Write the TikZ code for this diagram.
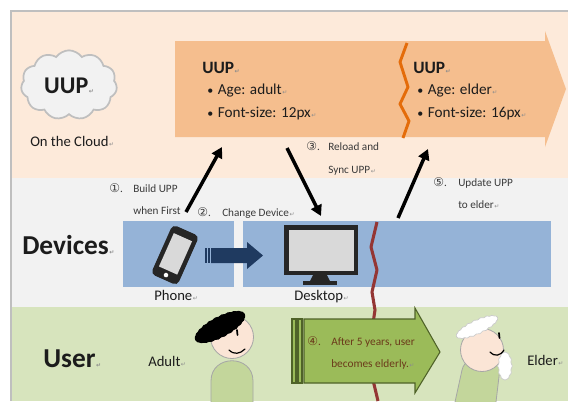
\documentclass[tikz,border=0pt]{standalone}
\usepackage{fontspec}
\setmainfont{Carlito}
\newfontfamily\djv{DejaVu Sans}
\usetikzlibrary{shapes.symbols,arrows.meta}

\definecolor{cloudband}{HTML}{FDEADA}
\definecolor{deviceband}{HTML}{F2F2F2}
\definecolor{userband}{HTML}{D7E4BD}
\definecolor{framegray}{HTML}{BFBFBF}
\definecolor{cloudfill}{HTML}{F2F2F2}
\definecolor{cloudline}{HTML}{BFBFBF}
\definecolor{profilefill}{HTML}{F5BE8E}
\definecolor{zigorange}{HTML}{E46C0A}
\definecolor{devblue}{HTML}{95B3D7}
\definecolor{navy}{HTML}{1F3A60}
\definecolor{timered}{HTML}{943634}
\definecolor{agegreen}{HTML}{9BBB59}
\definecolor{agegreenline}{HTML}{4F6228}
\definecolor{agetext}{HTML}{6B3A1A}
\definecolor{shirt}{HTML}{C3D69B}
\definecolor{skin}{HTML}{FBE5D6}
\definecolor{outline}{HTML}{A6A6A6}
\definecolor{ink}{HTML}{1C1C1C}
\definecolor{labelink}{HTML}{3A3A3A}
\definecolor{markgray}{HTML}{8C8C8C}
\definecolor{screen}{HTML}{D9D9D9}
\definecolor{device}{HTML}{262626}

% paragraph mark after a text
\newcommand\retmark{\hspace{0.4pt}{\djv\fontsize{4.5}{5}\selectfont\color{markgray}↵}}
% circled step number
\newcommand\stepno[1]{{\djv\fontsize{9}{9}\selectfont #1}.}
% bullet of a profile item
\newcommand\itembullet{\makebox[8pt][l]{\fontsize{9}{9}\selectfont•}}

\begin{document}
\begin{tikzpicture}[x=0.75pt,y=-0.75pt,
  txt/.style={inner sep=0pt, anchor=base west, text=ink},
  heading/.style={txt, font=\bfseries\fontsize{20.5}{21}\selectfont},
  uup/.style={txt, font=\bfseries\fontsize{13}{13}\selectfont},
  item/.style={txt, font=\fontsize{11.4}{13}\selectfont},
  mid/.style={txt, font=\fontsize{11}{13}\selectfont},
  lbl/.style={txt, font=\fontsize{8.4}{10}\selectfont, text=labelink},
  agelbl/.style={txt, font=\fontsize{8.5}{10}\selectfont, text=agetext},
  pointer/.style={line width=2.6pt, draw=black, -{Triangle[length=8pt,width=8.5pt]}},
  devbox/.style={fill=devblue},
  puff/.style={cloud, cloud ignores aspect, inner sep=0pt},
  face/.style={fill=skin, draw=outline, line width=0.6pt},
  torso/.style={fill=shirt, draw=outline, line width=0.6pt},
]
\useasboundingbox (0,0) rectangle (568,401);
\fill[white] (0,0) rectangle (568,401);

% three horizontal bands
\fill[cloudband] (11,11) rectangle (568,178);
\fill[deviceband] (11,178) rectangle (568,307);
\fill[userband] (11,307) rectangle (568,401);
\draw[framegray, line width=0.8pt] (11,401) -- (11,11) -- (568,11);

% ---- cloud row ----
\node[puff, cloud puffs=11, cloud puff arc=110, draw=cloudline, fill=cloudfill,
      line width=1.3pt, minimum width=72pt, minimum height=52pt] (cloud) at (69,85) {};
\node[font=\bfseries\fontsize{18}{18}\selectfont, text=ink, inner sep=0pt] (cloudtxt) at (69,86) {UUP\retmark};
\node[mid] (oncloud) at (30,146) {On the Cloud\retmark};

% profile timeline arrow
\fill[profilefill] (175,41) -- (545,41) -- (545,31) -- (566,89) -- (545,147) -- (545,137) -- (175,137) -- cycle;
\draw[zigorange, line width=2.2pt, line join=round]
  (407,43) -- (400,62) -- (408,87) -- (400,104) -- (409,121) -- (403,138);

\node[uup] (uupA) at (202,73) {UUP\retmark};
\node[item] (ageA) at (207,94) {\itembullet Age: adult\retmark};
\node[item] (fontA) at (207,117) {\itembullet Font-size: 12px\retmark};
\node[uup] (uupB) at (413,73) {UUP\retmark};
\node[item] (ageB) at (417,94) {\itembullet Age: elder\retmark};
\node[item] (fontB) at (417,117) {\itembullet Font-size: 16px\retmark};

% step labels
\node[lbl] (n1) at (109,192) {\stepno{①}};
\node[lbl] (s1a) at (133,192) {Build UPP};
\node[lbl] (s1b) at (133,214) {when First};
\node[lbl] (n2) at (197,216) {\stepno{②}};
\node[lbl] (s2) at (222,216) {Change Device\retmark};
\node[lbl] (n3) at (306,150) {\stepno{③}};
\node[lbl] (s3a) at (328,150) {Reload and};
\node[lbl] (s3b) at (328,173) {Sync UPP\retmark};
\node[lbl] (n5) at (433,186) {\stepno{⑤}};
\node[lbl] (s5a) at (458,186) {Update UPP};
\node[lbl] (s5b) at (458,208) {to elder\retmark};

% ---- devices row ----
\node[heading] (devices) at (22,254) {Devices\retmark};
\fill[devbox] (123,221) rectangle (234,287);
\fill[devbox] (243,221) rectangle (551,287);

% phone
\begin{scope}[shift={(175,255)}, rotate=-24]
  \fill[device, rounded corners=3.5pt] (-14.5,-27) rectangle (14.5,27);
  \fill[screen] (-10,-19.5) rectangle (10,17);
  \fill[white] (0,22) circle (2.3);
\end{scope}

% device change arrow
\fill[navy] (205,248) rectangle (206.5,263);
\fill[navy] (208,248) rectangle (209.5,263);
\fill[navy] (211,248) -- (247,248) -- (247,242) -- (263,255.5) -- (247,269) -- (247,263) -- (211,263) -- cycle;

% desktop monitor
\fill[device] (284,225) rectangle (358,275);
\fill[screen] (288.5,229.5) rectangle (353.5,270.5);
\fill[device] (313,275) -- (327,275) -- (330,281) -- (310,281) -- cycle;
\fill[device] (303,281) rectangle (337,284.5);

\node[mid] (phone) at (154,300) {Phone\retmark};
\node[mid] (desktop) at (294,300) {Desktop\retmark};

% time break line
\draw[timered, line width=2.3pt, line join=round]
  (377,222) -- (371,247) -- (377,270) -- (372,292) -- (375,310) -- (372,330)
  -- (377,355) -- (373,380) -- (378,401);

% ---- user row ----
\node[heading] (user) at (43,367) {User\retmark};
\node[mid] (adult) at (148,366) {Adult\retmark};
\node[mid] (elder) at (527,365) {Elder\retmark};

% ageing arrow
\fill[agegreen, draw=agegreenline, line width=0.8pt] (292,319) rectangle (296,383);
\fill[agegreen, draw=agegreenline, line width=0.8pt] (298,319) rectangle (302,383);
\fill[agegreen, draw=agegreenline, line width=0.8pt, line join=miter]
  (304,319) -- (415,319) -- (415,308) -- (440,352) -- (415,393) -- (415,383) -- (304,383) -- cycle;
\node[agelbl] (n4) at (307,345) {\stepno{④}};
\node[agelbl] (s4a) at (331,345) {After 5 years, user};
\node[agelbl] (s4b) at (331,367) {becomes elderly.\retmark};

% adult figure
\draw[torso] (211,402) -- (211,381) .. controls (211,354) and (253,354) .. (253,381) -- (253,402);
\draw[face] (232,337) circle (21.5);
\node[puff, cloud puffs=24, cloud puff arc=60, fill=black, draw=black, line width=1pt,
      minimum width=41pt, minimum height=15pt, rotate=28] (hair) at (220,327) {};
\draw[black, line width=1.3pt, line cap=round] (237,330) -- (237.5,335);
\draw[black, line width=0.9pt, line cap=round] (229,350) .. controls (234,355) and (240,354) .. (245,349);

% elder figure
\draw[torso] (455,402) -- (462,370) .. controls (466,352) and (500,352) .. (500,368) -- (496,402);
\draw[face] (482,350) circle (21.5);
\node[puff, cloud puffs=20, cloud puff arc=80, fill=white, draw=outline!60, line width=0.5pt,
      minimum width=34pt, minimum height=11pt, rotate=25] (whitehair) at (477,327) {};
\node[puff, cloud puffs=12, cloud puff arc=90, fill=white, draw=outline!60, line width=0.5pt,
      minimum width=11pt, minimum height=21pt] (beard) at (505,366) {};
\draw[black, line width=1.3pt, line cap=round] (499,333) -- (499.5,338);
\draw[black, line width=0.9pt, line cap=round] (490,352) .. controls (495,357) and (500,356) .. (504,350);

% step pointers
\coordinate (p1s) at (186,212);
\coordinate (p1e) at (222,147);
\coordinate (p3s) at (287,148);
\coordinate (p3e) at (321,216);
\coordinate (p5s) at (398,218);
\coordinate (p5e) at (428,149);
\draw[pointer] (p1s) -- (p1e);
\draw[pointer] (p3s) -- (p3e);
\draw[pointer] (p5s) -- (p5e);
\end{tikzpicture}
\end{document}
